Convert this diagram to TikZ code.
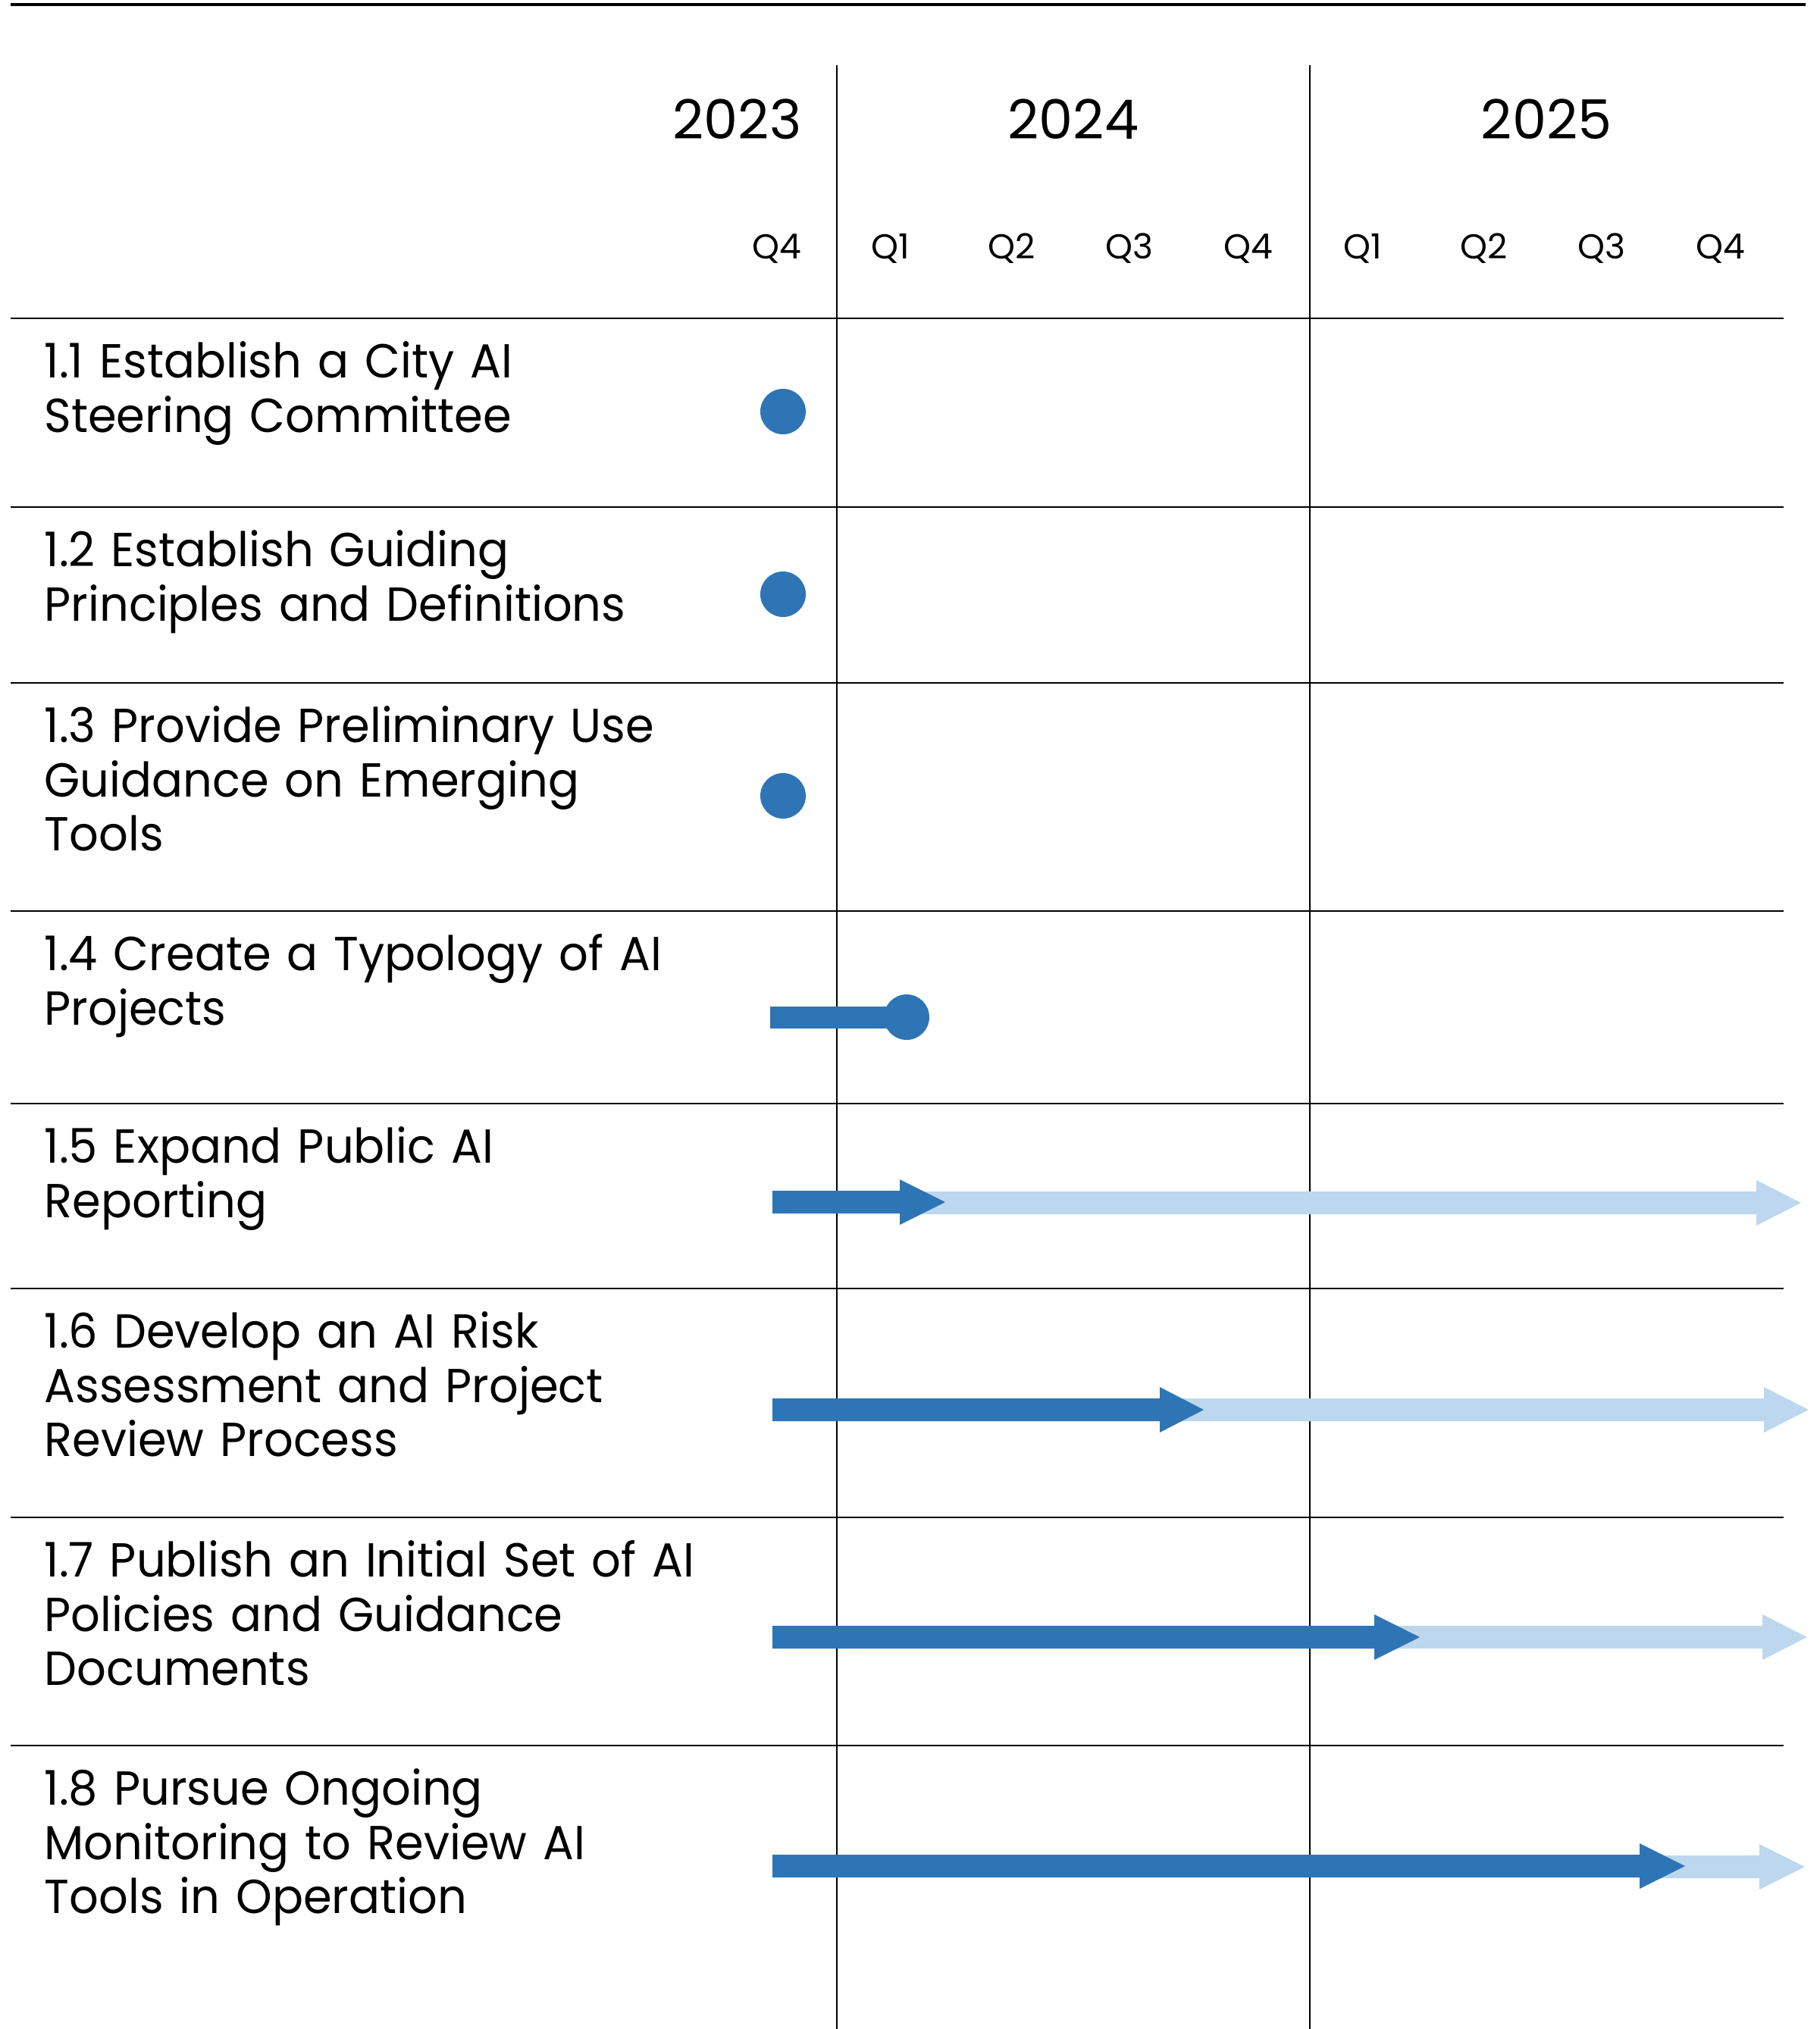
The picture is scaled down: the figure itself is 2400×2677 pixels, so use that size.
\documentclass[tikz,border=0pt]{standalone}
\usepackage{fontspec}
\setmainfont{Poppins}
\newfontfamily\rowfont[FakeStretch=0.963]{Poppins}
\definecolor{darkblue}{RGB}{46,117,182}
\definecolor{lightblue}{RGB}{189,215,238}
\newcommand{\rmArrow}[5]{% y, x0, base, tip, colour
  \fill[#5] ({#2},{#1-15}) -- ({#3},{#1-15}) -- ({#3},{#1-30}) -- ({#4},{#1}) -- ({#3},{#1+30}) -- ({#3},{#1+15}) -- ({#2},{#1+15}) -- cycle;}
\begin{document}
\begin{tikzpicture}[x=0.3pt,y=-0.3pt,
  gridline/.style={line width=0.8pt, black},
  rowlabel/.style={anchor=base west, inner sep=0pt, text width=320pt, align=left,
    font=\rowfont\fontsize{18.9}{21.45}\selectfont},
  yearlabel/.style={anchor=base, inner sep=0pt, font=\fontsize{21.5}{24}\selectfont},
  qlabel/.style={anchor=base, inner sep=0pt, font=\fontsize{13.7}{16}\selectfont},
  mdot/.style={circle, fill=darkblue, minimum size=18pt, inner sep=0pt}
]
\useasboundingbox (0,0) rectangle (2400,2677);
% top rule
\draw[line width=1.05pt] (14,6) -- (2382,6);
% vertical year lines
\draw[gridline] (1104,86) -- (1104,2677);
\draw[gridline] (1728,86) -- (1728,2677);
% horizontal separators
\foreach \yy in {420,669,901,1202,1456,1700,2002,2303}
  \draw[gridline] (14,\yy) -- (2353,\yy);
% years
\node[yearlabel, anchor=base east] (y2023) at (1058,183) {2023};
\node[yearlabel] (y2024) at (1416,183) {2024};
\node[yearlabel] (y2025) at (2040,183) {2025};
% quarters
\node[qlabel, anchor=base east] (q0) at (1058,341) {Q4};
\node[qlabel] (q1) at (1175,341) {Q1};
\node[qlabel] (q2) at (1335,341) {Q2};
\node[qlabel] (q3) at (1490,341) {Q3};
\node[qlabel] (q4) at (1647,341) {Q4};
\node[qlabel] (q5) at (1798,341) {Q1};
\node[qlabel] (q6) at (1958,341) {Q2};
\node[qlabel] (q7) at (2113,341) {Q3};
\node[qlabel] (q8) at (2270,341) {Q4};
% row labels
\node[rowlabel] (r1) at (58,498.5) {1.1 Establish a City AI\\Steering Committee};
\node[rowlabel] (r2) at (58,747.5) {1.2 Establish Guiding\\Principles and Definitions};
\node[rowlabel] (r3) at (58,979.5) {1.3 Provide Preliminary Use\\Guidance on Emerging\\Tools};
\node[rowlabel] (r4) at (58,1280.5) {1.4 Create a Typology of AI\\Projects};
\node[rowlabel] (r5) at (58,1534.5) {1.5 Expand Public AI\\Reporting};
\node[rowlabel] (r6) at (58,1778.5) {1.6 Develop an AI Risk\\Assessment and Project\\Review Process};
\node[rowlabel] (r7) at (58,2080.5) {1.7 Publish an Initial Set of AI\\Policies and Guidance\\Documents};
\node[rowlabel] (r8) at (58,2381.5) {1.8 Pursue Ongoing\\Monitoring to Review AI\\Tools in Operation};
% milestones
\node[mdot] (d1) at (1033,543) {};
\node[mdot] (d2) at (1033,784) {};
\node[mdot] (d3) at (1033,1050) {};
% row 4
\fill[darkblue] (1016,1328) rectangle (1196,1357);
\node[mdot] (d4) at (1196,1342) {};
% row 5
\rmArrow{1587}{1187}{2317}{2376}{lightblue}
\rmArrow{1586}{1019}{1187}{1247}{darkblue}
% row 6
\rmArrow{1860}{1530}{2327}{2386}{lightblue}
\rmArrow{1860}{1019}{1530}{1588}{darkblue}
% row 7
\rmArrow{2160}{1813}{2325}{2384}{lightblue}
\rmArrow{2160}{1019}{1813}{1873}{darkblue}
% row 8
\rmArrow{2463}{2163}{2321}{2381}{lightblue}
\rmArrow{2462}{1019}{2163}{2223}{darkblue}
\end{tikzpicture}
\end{document}
